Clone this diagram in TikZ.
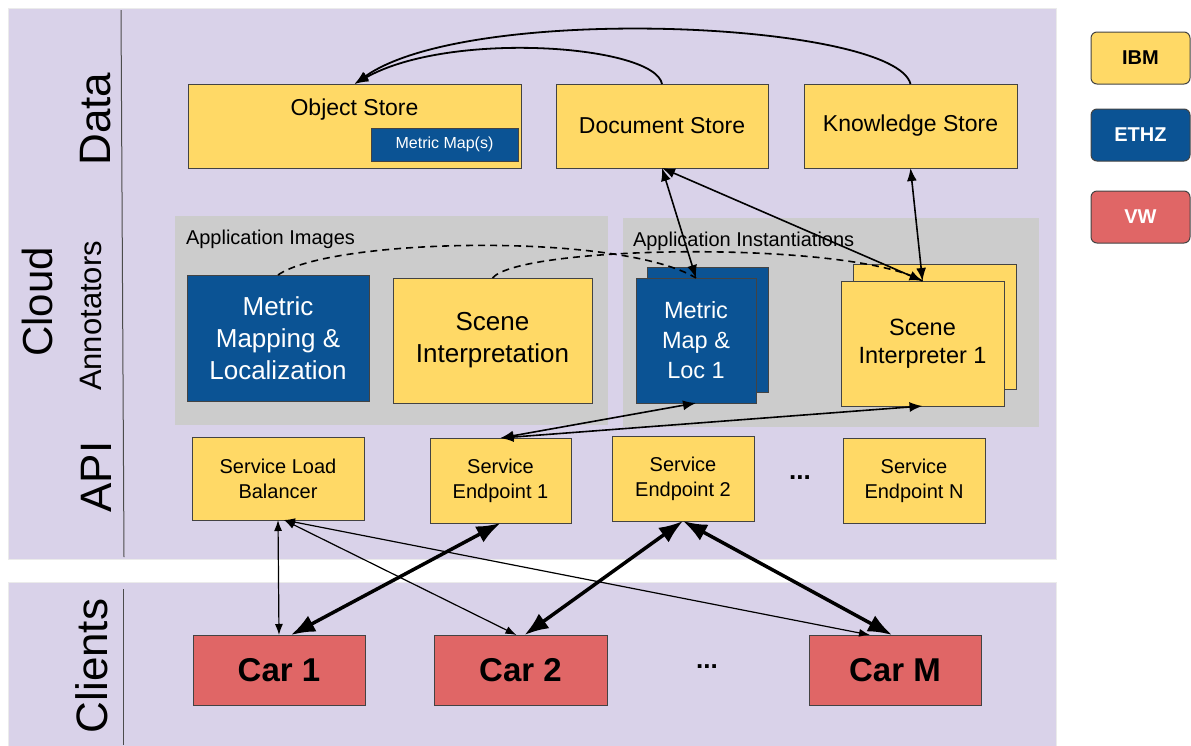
\documentclass[tikz,border=0pt]{standalone}
\usepackage{fontspec}
\setmainfont{Liberation Sans}
\usetikzlibrary{arrows.meta}

\definecolor{lavender}{HTML}{D9D2E9}
\definecolor{groupgray}{HTML}{CCCCCC}
\definecolor{ibm}{HTML}{FFD966}
\definecolor{ethz}{HTML}{0B5394}
\definecolor{vw}{HTML}{E06666}
\definecolor{edge}{HTML}{434343}

\begin{document}
\begin{tikzpicture}
  [
    x                 = 1pt,
    y                 = -1pt,
    every node/.style = {outer sep=0pt, inner sep=2pt, align=center,
                         font=\fontsize{20}{25}\selectfont},
    panel/.style      = {anchor=north west, fill=lavender, draw=black!8, line width=0.8pt},
    group/.style      = {anchor=north west, fill=groupgray},
    box/.style        = {anchor=north west, draw=edge, line width=1pt},
    ibm box/.style    = {box, fill=ibm},
    ethz box/.style   = {box, fill=ethz, text=white},
    vw box/.style     = {box, fill=vw, font=\fontsize{33}{40}\selectfont\bfseries},
    legend/.style     = {rounded corners=6pt, minimum width=99, minimum height=52,
                         font=\fontsize{20}{24}\selectfont\bfseries},
    lane/.style       = {rotate=90, font=\fontsize{44}{50}\selectfont},
    bigtext/.style    = {font=\fontsize{26}{32}\selectfont},
    store link/.style = {draw, line width=1.8pt, -{Latex[length=14pt,width=10pt]}},
    link/.style       = {draw, line width=1.6pt,
                         {Latex[length=13pt,width=10pt]}-{Latex[length=13pt,width=10pt]}},
    lb link/.style    = {draw, line width=1.2pt,
                         {Latex[length=11pt,width=8pt]}-{Latex[length=11pt,width=8pt]}},
    fat link/.style   = {draw, line width=3.5pt,
                         {Latex[length=24pt,width=18pt]}-{Latex[length=24pt,width=18pt]}},
    image link/.style = {draw, line width=1.6pt, dash pattern=on 7pt off 5pt},
  ]
  \useasboundingbox (0,0) rectangle (1191,745);

  \node[panel, minimum width=1048, minimum height=551] (cloud) at (8,8) {};
  \node[panel, minimum width=1048, minimum height=165] (clients) at (8,582) {};
  \draw[black!70, line width=1pt] (121,10) -- (124,557);
  \draw[black!70, line width=1pt] (123,589) -- (123,745);

  \node[lane, font=\fontsize{42}{48}\selectfont] (cloudlabel) at (37,302) {Cloud};
  \node[lane] (datalabel) at (96,119) {Data};
  \node[lane, font=\fontsize{31}{36}\selectfont] (annotlabel) at (91,316) {Annotators};
  \node[lane] (apilabel) at (96,477) {API};
  \node[lane] (clientslabel) at (92,666) {Clients};

  \node[ibm box, minimum width=333, minimum height=84,
        label={[anchor=center, yshift=-26pt, font=\fontsize{23}{28}\selectfont]north:Object Store}]
        (objstore) at (188,84) {};
  \node[ethz box, minimum width=147, minimum height=33, font=\fontsize{16}{20}\selectfont]
        (metricmaps) at (371,128) {Metric Map(s)};
  \node[ibm box, minimum width=212, minimum height=84, font=\fontsize{23}{28}\selectfont]
        (docstore) at (556,84) {Document Store};
  \node[ibm box, minimum width=213, minimum height=84, font=\fontsize{23}{28}\selectfont]
        (knowstore) at (804,84) {Knowledge Store};

  \node[group, minimum width=433, minimum height=209] (images) at (175,216) {};
  \node[group, minimum width=416, minimum height=209] (instances) at (623,218) {};
  \node[anchor=west] (imageslabel) at (184,239) {Application Images};
  \node[anchor=west] (instanceslabel) at (631,241) {Application Instantiations};

  \node[ethz box, bigtext, minimum width=182, minimum height=126]
        (mml) at (187,275) {Metric\\Mapping \&\\Localization};
  \node[ibm box, bigtext, minimum width=199, minimum height=125]
        (sceneint) at (393,278) {Scene\\Interpretation};
  \node[ethz box, minimum width=121, minimum height=125] (mapinstback) at (647,267) {};
  \node[ethz box, minimum width=120, minimum height=125, font=\fontsize{23.5}{30}\selectfont]
        (mapinst) at (636,278) {Metric\\Map \&\\Loc 1};
  \node[ibm box, minimum width=163, minimum height=125] (sceneinstback) at (853,264) {};
  \node[ibm box, minimum width=163, minimum height=125, font=\fontsize{23.5}{28}\selectfont]
        (sceneinst) at (841,281) {Scene\\Interpreter 1};

  \node[ibm box, minimum width=172, minimum height=83] (lb) at (192,437) {Service Load\\Balancer};
  \node[ibm box, minimum width=141, minimum height=85] (ep1) at (430,438) {Service\\Endpoint 1};
  \node[ibm box, minimum width=142, minimum height=85] (ep2) at (612,436) {Service\\Endpoint 2};
  \node[font=\fontsize{26}{30}\selectfont\bfseries] (apidots) at (800,478) {...};
  \node[ibm box, minimum width=142, minimum height=85] (epn) at (843,438) {Service\\Endpoint N};

  \node[vw box, minimum width=172, minimum height=70] (car1) at (193,635) {Car 1};
  \node[vw box, minimum width=173, minimum height=70] (car2) at (434,635) {Car 2};
  \node[font=\fontsize{26}{30}\selectfont\bfseries] (cardots) at (707,667) {...};
  \node[vw box, minimum width=172, minimum height=70] (carm) at (809,635) {Car M};

  \node[ibm box, legend] (ibm) at (1091,32) {IBM};
  \node[ethz box, legend] (ethz) at (1091,109) {ETHZ};
  \node[vw box, legend, text=white] (vw) at (1091,191) {VW};

  \draw[store link] (docstore.north) .. controls (655,45) and (450,30) .. (objstore.north);
  \draw[store link] (knowstore.north) .. controls (895,22) and (470,2) .. (objstore.north);

  \draw[image link] (mml.north) .. controls (330,238) and (620,232) .. (mapinst.north);
  \draw[image link] (sceneint.north) .. controls (520,245) and (850,240) .. (sceneinst.north);

  \draw[link] (docstore.south) -- (mapinst.north);
  \draw[link] (docstore.south) -- (sceneinst.north);
  \draw[link] (knowstore.south) -- (sceneinst.north);
  \draw[link] (ep1.north) -- (mapinst.south);
  \draw[link] (ep1.north) -- (sceneinst.south);

  \draw[lb link] (lb.south) -- (car1.north);
  \draw[lb link] ([xshift=6pt]lb.south) -- ([xshift=-4pt]car2.north);
  \draw[lb link] ([xshift=6pt]lb.south) -- ([xshift=-25pt]carm.north);

  \draw[fat link] ([xshift=12pt]car1.north) -- (ep1.south);
  \draw[fat link] ([xshift=4pt]car2.north) -- (ep2.south);
  \draw[fat link] ([xshift=-3pt]carm.north) -- (ep2.south);
\end{tikzpicture}
\end{document}
